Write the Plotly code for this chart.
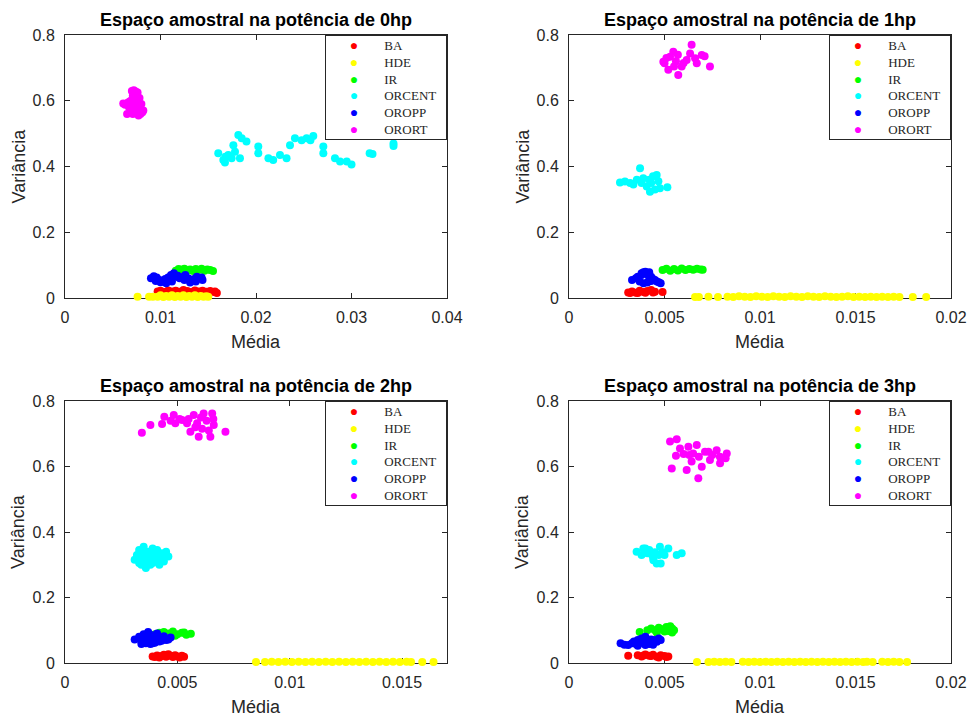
import plotly.graph_objects as go

# ---------------- data ----------------
classes = ["BA", "HDE", "IR", "ORCENT", "OROPP", "ORORT"]
colors = ["#ff0000", "#ffff00", "#00ff00", "#00ffff", "#0000ff", "#ff00ff"]
titles = ["Espaço amostral na potência de 0hp", "Espaço amostral na potência de 1hp",
          "Espaço amostral na potência de 2hp", "Espaço amostral na potência de 3hp"]
x_ranges = [[0, 0.04], [0, 0.02], [0, 0.017], [0, 0.02]]
x_tickvals = [[0, 0.01, 0.02, 0.03, 0.04], [0, 0.005, 0.01, 0.015, 0.02],
              [0, 0.005, 0.01, 0.015], [0, 0.005, 0.01, 0.015, 0.02]]
x_ticktext = [["0", "0.01", "0.02", "0.03", "0.04"], ["0", "0.005", "0.01", "0.015", "0.02"],
              ["0", "0.005", "0.01", "0.015"], ["0", "0.005", "0.01", "0.015", "0.02"]]
y_tickvals = [0, 0.2, 0.4, 0.6, 0.8]
y_ticktext = ["0", "0.2", "0.4", "0.6", "0.8"]

# ----- 0hp -----
ba0_x = [0.0097, 0.0100, 0.0104, 0.0108, 0.0112, 0.0116, 0.0120, 0.0124, 0.0128, 0.0132, 0.0136, 0.0140, 0.0144,
         0.0148, 0.0152, 0.0156, 0.0159, 0.0102, 0.0110, 0.0118, 0.0126, 0.0134, 0.0142, 0.0150, 0.0157]
ba0_y = [0.020, 0.022, 0.018, 0.023, 0.020, 0.022, 0.019, 0.024, 0.021, 0.018, 0.023, 0.020, 0.022,
         0.019, 0.021, 0.018, 0.015, 0.016, 0.015, 0.017, 0.016, 0.015, 0.017, 0.016, 0.020]
hde0_x = [0.0076, 0.0088, 0.0092, 0.0097, 0.0100, 0.0103, 0.0106, 0.0109, 0.0112, 0.0115, 0.0118, 0.0121,
          0.0124, 0.0127, 0.0130, 0.0133, 0.0136, 0.0139, 0.0142, 0.0145, 0.0148, 0.0150]
hde0_y = [0.004, 0.004, 0.004, 0.004, 0.008, 0.003, 0.006, 0.004, 0.008, 0.003, 0.006, 0.004,
          0.008, 0.003, 0.006, 0.004, 0.008, 0.003, 0.006, 0.004, 0.005, 0.004]
ir0_x = [0.0116, 0.0119, 0.0122, 0.0125, 0.0128, 0.0131, 0.0134, 0.0137, 0.0140, 0.0143, 0.0146, 0.0149, 0.0152, 0.0155]
ir0_y = [0.083, 0.088, 0.086, 0.089, 0.084, 0.087, 0.082, 0.088, 0.085, 0.089, 0.083, 0.087, 0.085, 0.082]
orcent0_x = [0.01605, 0.01658, 0.01675, 0.0171, 0.01763, 0.0178, 0.01815, 0.0185, 0.0190, 0.01832, 0.01745,
             0.02024, 0.02024, 0.0213, 0.0218, 0.02251, 0.0232, 0.02356, 0.02408, 0.02478, 0.0253, 0.0260,
             0.02705, 0.02705, 0.02827, 0.0288, 0.0295, 0.0300, 0.0319, 0.0322, 0.0344, 0.0344, 0.0168, 0.0257]
orcent0_y = [0.440, 0.420, 0.412, 0.435, 0.465, 0.445, 0.496, 0.486, 0.476, 0.425, 0.425,
             0.461, 0.440, 0.425, 0.420, 0.435, 0.425, 0.465, 0.486, 0.480, 0.486, 0.493,
             0.461, 0.440, 0.425, 0.415, 0.415, 0.406, 0.440, 0.438, 0.470, 0.462, 0.430, 0.480]
oropp0_x = [0.0090, 0.0093, 0.0096, 0.0099, 0.0102, 0.0105, 0.0108, 0.0111, 0.0114, 0.0117, 0.0120, 0.0123,
            0.0126, 0.0129, 0.0132, 0.0135, 0.0138, 0.0141, 0.0144, 0.0095, 0.0100, 0.0106, 0.0112, 0.0118,
            0.0125, 0.0131, 0.0137, 0.0143]
oropp0_y = [0.060, 0.066, 0.062, 0.055, 0.050, 0.058, 0.062, 0.070, 0.075, 0.065, 0.060, 0.064,
            0.070, 0.060, 0.052, 0.058, 0.065, 0.060, 0.055, 0.052, 0.048, 0.045, 0.050, 0.068,
            0.055, 0.047, 0.050, 0.062]
orort0_x = [0.0070, 0.0072, 0.0074, 0.0076, 0.0071, 0.0073, 0.0075, 0.0069, 0.0068, 0.0066, 0.0064, 0.0061,
            0.0063, 0.0067, 0.0070, 0.0073, 0.0076, 0.0078, 0.0080, 0.0082, 0.0079, 0.0077, 0.0074, 0.0071,
            0.0069, 0.0072, 0.0075, 0.0078, 0.0081, 0.0065]
orort0_y = [0.630, 0.632, 0.628, 0.625, 0.615, 0.610, 0.605, 0.600, 0.598, 0.595, 0.590, 0.592,
            0.588, 0.580, 0.575, 0.585, 0.598, 0.608, 0.590, 0.570, 0.560, 0.555, 0.565, 0.560,
            0.570, 0.595, 0.580, 0.575, 0.565, 0.560]

# ----- 1hp -----
ba1_x = [0.0031, 0.0033, 0.0035, 0.0037, 0.0039, 0.0041, 0.0043, 0.0045, 0.0032, 0.0036, 0.0040, 0.0044, 0.0049]
ba1_y = [0.017, 0.020, 0.016, 0.022, 0.018, 0.021, 0.024, 0.019, 0.015, 0.015, 0.016, 0.017, 0.018]
hde1_x = [0.0066, 0.0068, 0.0073, 0.0078, 0.0083, 0.0086, 0.0089, 0.0092, 0.0095, 0.0098, 0.0101, 0.0104,
          0.0107, 0.0110, 0.0113, 0.0116, 0.0119, 0.0122, 0.0125, 0.0128, 0.0131, 0.0134, 0.0137, 0.0140,
          0.0143, 0.0146, 0.0149, 0.0152, 0.0155, 0.0158, 0.0161, 0.0164, 0.0167, 0.0170, 0.0173, 0.0180, 0.0187]
hde1_y = [0.003, 0.003, 0.004, 0.003, 0.004, 0.003, 0.005, 0.004, 0.003, 0.005, 0.004, 0.003,
          0.005, 0.004, 0.003, 0.005, 0.004, 0.003, 0.005, 0.004, 0.003, 0.005, 0.004, 0.003,
          0.004, 0.005, 0.003, 0.004, 0.003, 0.004, 0.003, 0.004, 0.003, 0.004, 0.003, 0.003, 0.003]
ir1_x = [0.0049, 0.0051, 0.0053, 0.0055, 0.0057, 0.0059, 0.0061, 0.0063, 0.0065, 0.0067, 0.0069, 0.0070]
ir1_y = [0.085, 0.089, 0.083, 0.088, 0.084, 0.090, 0.085, 0.088, 0.086, 0.089, 0.087, 0.086]
orcent1_x = [0.00267, 0.00293, 0.00372, 0.00355, 0.00389, 0.00407, 0.00424, 0.0043, 0.00459, 0.00468, 0.00476,
             0.00515, 0.0032, 0.00337, 0.0045, 0.0042, 0.0038, 0.0044]
orcent1_y = [0.351, 0.354, 0.395, 0.360, 0.364, 0.339, 0.323, 0.350, 0.374, 0.355, 0.334,
             0.337, 0.350, 0.345, 0.330, 0.360, 0.350, 0.370]
oropp1_x = [0.0033, 0.0035, 0.0036, 0.0038, 0.0039, 0.0040, 0.0041, 0.0042, 0.0043, 0.0044, 0.0045, 0.0046,
            0.0047, 0.0048, 0.0037, 0.0039, 0.0041, 0.0043, 0.0038, 0.0042]
oropp1_y = [0.055, 0.060, 0.065, 0.070, 0.078, 0.080, 0.072, 0.078, 0.065, 0.058, 0.055, 0.050,
            0.048, 0.045, 0.050, 0.045, 0.047, 0.052, 0.075, 0.062]
orort1_x = [0.00642, 0.00738, 0.00494, 0.00546, 0.00572, 0.0052, 0.00616, 0.00695, 0.00669, 0.00529, 0.0059,
            0.00634, 0.0055, 0.0050, 0.0066, 0.0071, 0.0051, 0.0056, 0.0060, 0.0057]
orort1_y = [0.770, 0.704, 0.719, 0.749, 0.678, 0.694, 0.724, 0.739, 0.714, 0.734, 0.704,
            0.744, 0.704, 0.714, 0.729, 0.735, 0.730, 0.720, 0.715, 0.740]

# ----- 2hp -----
ba2_x = [0.0039, 0.0040, 0.0041, 0.0042, 0.0043, 0.0044, 0.0045, 0.0046, 0.0047, 0.0048, 0.0049, 0.0050,
         0.0051, 0.0052, 0.0053]
ba2_y = [0.020, 0.018, 0.023, 0.017, 0.021, 0.025, 0.019, 0.027, 0.022, 0.018, 0.024, 0.020, 0.017, 0.022, 0.019]
hde2_x = [0.0085, 0.0089, 0.0092, 0.0095, 0.0098, 0.0101, 0.0104, 0.0107, 0.0110, 0.0113, 0.0116, 0.0119,
          0.0122, 0.0125, 0.0128, 0.0131, 0.0134, 0.0137, 0.0140, 0.0143, 0.0146, 0.0149, 0.0152, 0.0154,
          0.0159, 0.0164]
hde2_y = [0.003, 0.003, 0.004, 0.003, 0.004, 0.003, 0.004, 0.003, 0.004, 0.003, 0.004, 0.003,
          0.004, 0.003, 0.004, 0.003, 0.004, 0.003, 0.004, 0.003, 0.004, 0.003, 0.004, 0.003,
          0.003, 0.003]
ir2_x = [0.0040, 0.0042, 0.0044, 0.0046, 0.0048, 0.0050, 0.0052, 0.0054, 0.0056, 0.0045, 0.0049, 0.0053]
ir2_y = [0.088, 0.092, 0.095, 0.090, 0.096, 0.088, 0.092, 0.086, 0.089, 0.085, 0.083, 0.093]
orcent2_x = [0.0031, 0.0032, 0.0033, 0.0034, 0.0035, 0.0036, 0.0037, 0.0038, 0.0039, 0.0040, 0.0041, 0.0042,
             0.0043, 0.0044, 0.0045, 0.0046, 0.0034, 0.0036, 0.0038, 0.0040, 0.0042, 0.0044, 0.0035, 0.0037,
             0.0039, 0.0041, 0.0043, 0.0033]
orcent2_y = [0.315, 0.330, 0.345, 0.300, 0.355, 0.290, 0.340, 0.325, 0.350, 0.310, 0.345, 0.300,
             0.335, 0.320, 0.340, 0.325, 0.320, 0.310, 0.300, 0.330, 0.315, 0.310, 0.335, 0.318,
             0.305, 0.325, 0.330, 0.305]
oropp2_x = [0.0031, 0.0033, 0.0034, 0.0035, 0.0036, 0.0037, 0.0038, 0.0039, 0.0040, 0.0041, 0.0042, 0.0043,
            0.0044, 0.0045, 0.0046, 0.0047, 0.0034, 0.0036, 0.0038, 0.0040, 0.0042, 0.0035, 0.0037, 0.0039, 0.0041]
oropp2_y = [0.072, 0.080, 0.065, 0.088, 0.060, 0.095, 0.070, 0.085, 0.062, 0.090, 0.075, 0.068,
            0.082, 0.070, 0.072, 0.078, 0.058, 0.078, 0.058, 0.078, 0.066, 0.075, 0.085, 0.060, 0.072]
orort2_x = [0.00342, 0.0038, 0.00432, 0.00442, 0.00484, 0.00491, 0.00521, 0.00543, 0.00573, 0.00588, 0.00558,
            0.00595, 0.00617, 0.00655, 0.00662, 0.00647, 0.00714, 0.0061, 0.0063, 0.0047, 0.0051, 0.0058,
            0.0064, 0.0066, 0.00605, 0.0055]
orort2_y = [0.703, 0.727, 0.730, 0.752, 0.757, 0.732, 0.742, 0.732, 0.757, 0.732, 0.706,
            0.691, 0.762, 0.762, 0.727, 0.691, 0.706, 0.715, 0.740, 0.740, 0.745, 0.720,
            0.710, 0.745, 0.750, 0.745]

# ----- 3hp -----
ba3_x = [0.0031, 0.0036, 0.0038, 0.0040, 0.0042, 0.0044, 0.0046, 0.0048, 0.0050, 0.0052, 0.0039, 0.0043,
         0.0047, 0.0051]
ba3_y = [0.022, 0.024, 0.020, 0.026, 0.022, 0.025, 0.019, 0.024, 0.021, 0.020, 0.023, 0.021, 0.017, 0.018]
hde3_x = [0.0067, 0.0073, 0.0076, 0.0079, 0.0082, 0.0085, 0.0091, 0.0094, 0.0097, 0.0100, 0.0103, 0.0106,
          0.0109, 0.0112, 0.0115, 0.0118, 0.0121, 0.0124, 0.0127, 0.0130, 0.0133, 0.0136, 0.0139, 0.0142,
          0.0145, 0.0148, 0.0151, 0.0154, 0.0156, 0.0159, 0.0164, 0.0167, 0.0170, 0.0173, 0.0177]
hde3_y = [0.003, 0.003, 0.004, 0.003, 0.004, 0.003, 0.004, 0.003, 0.004, 0.003, 0.004, 0.003,
          0.004, 0.003, 0.004, 0.003, 0.004, 0.003, 0.004, 0.003, 0.004, 0.003, 0.004, 0.003,
          0.004, 0.003, 0.004, 0.003, 0.004, 0.003, 0.004, 0.003, 0.004, 0.003, 0.003]
ir3_x = [0.0037, 0.0041, 0.0043, 0.0045, 0.0047, 0.0049, 0.0051, 0.0052, 0.0053, 0.0054, 0.0055, 0.0046,
         0.0050, 0.0054]
ir3_y = [0.095, 0.100, 0.105, 0.100, 0.108, 0.103, 0.110, 0.098, 0.112, 0.105, 0.100, 0.092, 0.096, 0.093]
orcent3_x = [0.00354, 0.00389, 0.0042, 0.00442, 0.00459, 0.0048, 0.00476, 0.0052, 0.0050, 0.00564, 0.0059,
             0.0041, 0.0038, 0.0043, 0.0045, 0.0047, 0.0049, 0.0044, 0.0040]
orcent3_y = [0.340, 0.350, 0.345, 0.314, 0.304, 0.304, 0.355, 0.350, 0.330, 0.330, 0.335,
             0.335, 0.330, 0.333, 0.338, 0.330, 0.338, 0.322, 0.350]
oropp3_x = [0.0027, 0.0029, 0.0031, 0.0033, 0.0034, 0.0035, 0.0036, 0.0037, 0.0038, 0.0039, 0.0040, 0.0041,
            0.0042, 0.0043, 0.0044, 0.0045, 0.0046, 0.0047, 0.0048, 0.0036, 0.0040, 0.0044]
oropp3_y = [0.060, 0.056, 0.055, 0.060, 0.066, 0.058, 0.070, 0.065, 0.075, 0.060, 0.080, 0.068,
            0.058, 0.072, 0.062, 0.070, 0.065, 0.075, 0.070, 0.053, 0.055, 0.056]
orort3_x = [0.00564, 0.00529, 0.00581, 0.00625, 0.00669, 0.00538, 0.00616, 0.00677, 0.00642, 0.00695, 0.00712,
            0.00738, 0.00773, 0.00791, 0.00826, 0.0082, 0.0075, 0.0060, 0.0056, 0.0065, 0.0068, 0.0079,
            0.0073, 0.0063]
orort3_y = [0.683, 0.676, 0.655, 0.660, 0.666, 0.594, 0.589, 0.564, 0.615, 0.599, 0.645,
            0.620, 0.650, 0.610, 0.640, 0.625, 0.635, 0.638, 0.633, 0.640, 0.630, 0.630,
            0.645, 0.635]

panels = [
    [(ba0_x, ba0_y), (hde0_x, hde0_y), (ir0_x, ir0_y), (orcent0_x, orcent0_y), (oropp0_x, oropp0_y), (orort0_x, orort0_y)],
    [(ba1_x, ba1_y), (hde1_x, hde1_y), (ir1_x, ir1_y), (orcent1_x, orcent1_y), (oropp1_x, oropp1_y), (orort1_x, orort1_y)],
    [(ba2_x, ba2_y), (hde2_x, hde2_y), (ir2_x, ir2_y), (orcent2_x, orcent2_y), (oropp2_x, oropp2_y), (orort2_x, orort2_y)],
    [(ba3_x, ba3_y), (hde3_x, hde3_y), (ir3_x, ir3_y), (orcent3_x, orcent3_y), (oropp3_x, oropp3_y), (orort3_x, orort3_y)],
]

# ---------------- layout geometry (pixels of a 971x716 canvas) ----------------
W, H = 971, 716
px_x = [(65, 447), (569, 951), (65, 447), (569, 951)]
px_y = [(35, 298), (35, 298), (401, 663), (401, 663)]

fig = go.Figure()
AX = "#262626"
tickfont = dict(family="Liberation Sans, Arial", size=16, color=AX)
NB = "\u00a0"

# MATLAB-style boxed legend (marker column + name column), one per panel
legend_text = "<br>".join(
    NB * 7 + f"<span style='color:{c};font-size:14px'>\u25cf</span>" + NB * 8 + n
    for n, c in zip(classes, colors))

annotations = []
for i in range(4):
    xa = "x" if i == 0 else f"x{i+1}"
    ya = "y" if i == 0 else f"y{i+1}"
    for (xs, ys), name, col in zip(panels[i], classes, colors):
        fig.add_trace(go.Scatter(x=xs, y=ys, mode="markers", name=name, xaxis=xa, yaxis=ya,
                                 showlegend=False, cliponaxis=False,
                                 marker=dict(color=col, size=8, line=dict(width=0))))
    x0, x1 = px_x[i]
    yt, yb = px_y[i]
    xdom = [x0 / W, x1 / W]
    ydom = [1 - yb / H, 1 - yt / H]
    key = "" if i == 0 else str(i + 1)
    fig.layout["xaxis" + key] = dict(domain=xdom, anchor=ya, range=x_ranges[i], tickvals=x_tickvals[i],
                                    ticktext=x_ticktext[i], ticks="inside", ticklen=5, tickcolor=AX,
                                    showline=True, linecolor=AX, linewidth=1, mirror="ticks",
                                    showgrid=False, zeroline=False, tickfont=tickfont, automargin=False,
                                    layer="below traces", ticklabelstandoff=5)
    fig.layout["yaxis" + key] = dict(domain=ydom, anchor=xa, range=[0, 0.8], tickvals=y_tickvals,
                                    ticktext=y_ticktext, ticks="inside", ticklen=5, tickcolor=AX,
                                    showline=True, linecolor=AX, linewidth=1, mirror="ticks",
                                    showgrid=False, zeroline=False, tickfont=tickfont, automargin=False,
                                    layer="below traces", ticklabelstandoff=6)
    annotations.append(dict(text=legend_text, x=xdom[1], y=ydom[1], xref="paper", yref="paper",
                            xanchor="right", yanchor="top", align="left", valign="middle",
                            width=118, height=101, borderpad=1, borderwidth=1, bordercolor=AX,
                            bgcolor="white", showarrow=False,
                            font=dict(family="Liberation Serif, Times New Roman", size=13, color="#262626")))
    cx = (x0 + x1) / 2 / W
    ty = 20 if i < 2 else 386
    annotations.append(dict(text="<b>" + titles[i] + "</b>", x=cx, y=1 - ty / H, xref="paper", yref="paper",
                            showarrow=False, xanchor="center", yanchor="middle",
                            font=dict(family="Liberation Sans, Arial", size=18, color="black")))
    annotations.append(dict(text="Média", x=cx, y=1 - (yb + 44) / H, xref="paper", yref="paper",
                            showarrow=False, xanchor="center", yanchor="middle",
                            font=dict(family="Liberation Sans, Arial", size=18, color=AX)))
    annotations.append(dict(text="Variância", x=(x0 - 47) / W, y=1 - (yt + yb) / 2 / H, xref="paper",
                            yref="paper", showarrow=False, xanchor="center", yanchor="middle", textangle=-90,
                            font=dict(family="Liberation Sans, Arial", size=18, color=AX)))

fig.update_layout(width=W, height=H, margin=dict(l=0, r=0, t=0, b=0), paper_bgcolor="white",
                  plot_bgcolor="white", showlegend=False, annotations=annotations)

fig.write_html("out.html", config={"displayModeBar": False},
               post_script="document.body.style.margin='0';document.body.style.padding='0';"
                           "document.body.style.overflow='hidden';")
